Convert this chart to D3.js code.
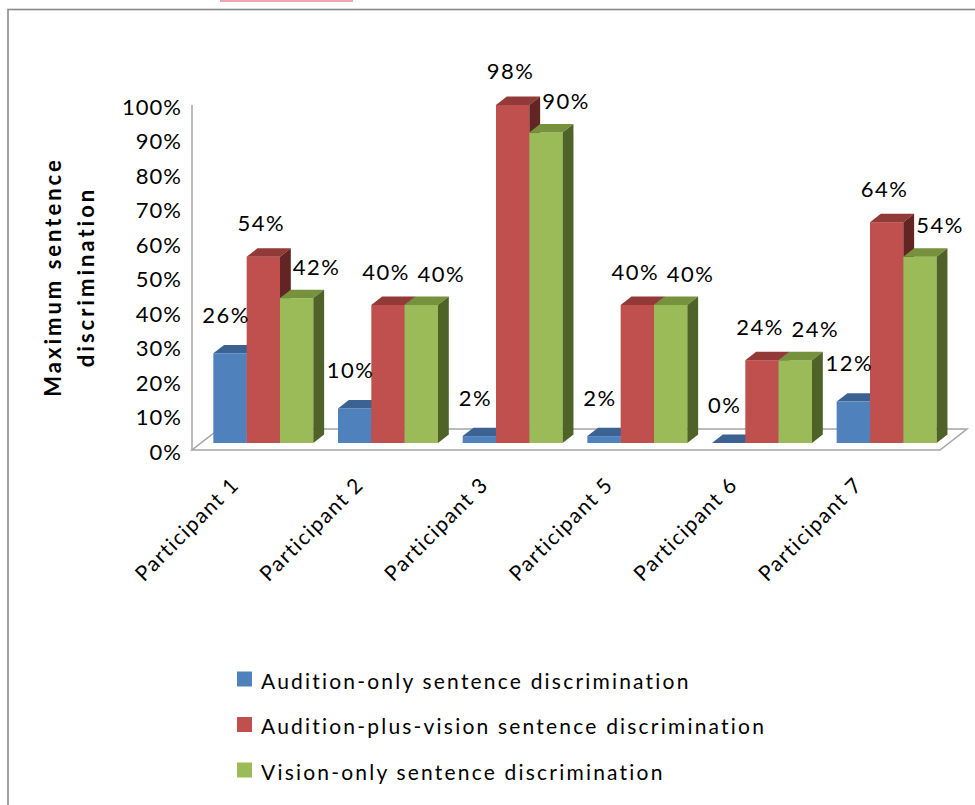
<!DOCTYPE html>
<html>
<head>
<meta charset="utf-8">
<script src="https://cdn.jsdelivr.net/npm/d3@7"></script>
<style>
  html, body { margin: 0; padding: 0; background: #fff; }
  svg { display: block; }
  text { font-family: Lato, "Open Sans", sans-serif; fill: #000; }
</style>
</head>
<body>
<svg id="chart" width="975" height="805"></svg>
<script>
// ---- data ----
const categories = ["Participant 1", "Participant 2", "Participant 3", "Participant 5", "Participant 6", "Participant 7"];
const seriesNames = [
  "Audition-only sentence discrimination",
  "Audition-plus-vision sentence discrimination",
  "Vision-only sentence discrimination"
];
const auditionOnly = [0.26, 0.10, 0.02, 0.02, 0.00, 0.12];
const auditionPlusVision = [0.54, 0.40, 0.98, 0.40, 0.24, 0.64];
const visionOnly = [0.42, 0.40, 0.90, 0.40, 0.24, 0.54];
const yTicks = [0, 0.1, 0.2, 0.3, 0.4, 0.5, 0.6, 0.7, 0.8, 0.9, 1.0];
const yTitle = ["Maximum sentence", "discrimination"];

const seriesValues = [auditionOnly, auditionPlusVision, visionOnly];
const palette = [
  { front: "#4f81bd", top: "#3b6293", side: "#2c4d75" },
  { front: "#c0504d", top: "#923a38", side: "#632523" },
  { front: "#9bbb59", top: "#76923c", side: "#4f6228" }
];

const svg = d3.select("#chart");

// page frame + top artifact
svg.append("rect").attr("x", 220).attr("y", 0).attr("width", 133).attr("height", 2).attr("fill", "#f3a3ad");
svg.append("rect").attr("x", 8).attr("y", 9.5).attr("width", 1100).attr("height", 1000)
  .attr("fill", "none").attr("stroke", "#8a8a8a").attr("stroke-width", 1.6);

// ---- geometry ----
const floorY = 450, floorLeft = 192, floorRight = 940;
const depth = { dx: 27, dy: -21 };          // floor depth
const frontShift = { dx: 9, dy: -7 };        // bar front face offset into the floor
const barDepth = { dx: 10.8, dy: -8.4 };     // bar depth

const x = d3.scaleBand().domain(categories).range([floorLeft, floorRight]);
const x1 = d3.scaleBand().domain(d3.range(seriesNames.length)).range([0, x.bandwidth()]).paddingOuter(0.37);
const y = d3.scaleLinear().domain([0, 1]).range([floorY, 105]);

// floor
const floorPts = [
  [floorLeft, floorY], [floorRight, floorY],
  [floorRight + depth.dx, floorY + depth.dy], [floorLeft + depth.dx, floorY + depth.dy]
];
svg.append("polygon").attr("points", floorPts.map(p => p.join(",")).join(" "))
  .attr("fill", "#fff").attr("stroke", "#a5a5a5").attr("stroke-width", 1.5);

// vertical axis line
svg.append("line").attr("x1", floorLeft).attr("x2", floorLeft).attr("y1", y(1)).attr("y2", y(0))
  .attr("stroke", "#a5a5a5").attr("stroke-width", 1.5);

// y tick labels
svg.append("g").selectAll("text").data(yTicks).join("text")
  .attr("x", 182).attr("y", d => y(d) + 1)
  .attr("text-anchor", "end").attr("dominant-baseline", "central")
  .attr("font-size", 22).attr("letter-spacing", 1)
  .text(d3.format(".0%"));

// y title
const yt = svg.append("text").attr("transform", "translate(61,277) rotate(-90)")
  .attr("text-anchor", "middle").attr("font-size", 22).attr("font-weight", "bold").attr("letter-spacing", 3);
yt.selectAll("tspan").data(yTitle).join("tspan")
  .attr("x", 0).attr("dy", (d, i) => i === 0 ? 0 : 33).text(d => d);

// bars
const bars = [];
categories.forEach((c, ci) => {
  seriesValues.forEach((vals, si) => {
    bars.push({ c, si, v: vals[ci] });
  });
});

const w = x1.bandwidth();
const gBars = svg.append("g");
bars.forEach(b => {
  const x0 = x(b.c) + x1(b.si) + frontShift.dx;
  const yb = y(0) + frontShift.dy;
  const ytp = y(b.v) + frontShift.dy;
  const col = palette[b.si];
  const poly = pts => pts.map(p => p.join(",")).join(" ");
  if (b.v > 0) {
    gBars.append("rect").attr("x", x0).attr("y", ytp).attr("width", w).attr("height", yb - ytp).attr("fill", col.front);
  }
  gBars.append("polygon").attr("fill", col.top).attr("points", poly([
    [x0, ytp], [x0 + w, ytp], [x0 + w + barDepth.dx, ytp + barDepth.dy], [x0 + barDepth.dx, ytp + barDepth.dy]
  ]));
  gBars.append("polygon").attr("fill", col.side).attr("points", poly([
    [x0 + w, ytp], [x0 + w + barDepth.dx, ytp + barDepth.dy], [x0 + w + barDepth.dx, yb + barDepth.dy], [x0 + w, yb]
  ]));
});

// data labels
const labelOffset = [{ dx: -4, dy: -39 }, { dx: -2, dy: -34 }, { dx: 20, dy: -32 }];
svg.append("g").selectAll("text").data(bars).join("text")
  .attr("x", d => x(d.c) + x1(d.si) + frontShift.dx + w / 2 + labelOffset[d.si].dx)
  .attr("y", d => y(d.v) + frontShift.dy + labelOffset[d.si].dy)
  .attr("text-anchor", "middle").attr("dominant-baseline", "central")
  .attr("font-size", 22).attr("letter-spacing", 1.5)
  .text(d => d3.format(".0%")(d.v));

// category labels
svg.append("g").selectAll("text").data(categories).join("text")
  .attr("transform", d => `translate(${x(d) + x.bandwidth() / 2 - 14},${floorY + 36}) rotate(-45)`)
  .attr("text-anchor", "end").attr("font-size", 21).attr("letter-spacing", 1.5)
  .text(d => d);

// legend
const lg = svg.append("g").selectAll("g").data(seriesNames).join("g")
  .attr("transform", (d, i) => `translate(237,${679 + i * 45.5})`);
lg.append("rect").attr("x", 0).attr("y", -7.5).attr("width", 15).attr("height", 15)
  .attr("fill", (d, i) => palette[i].front);
lg.append("text").attr("x", 24).attr("y", 1).attr("dominant-baseline", "central")
  .attr("font-size", 21).attr("letter-spacing", 2.2).text(d => d);
</script>
</body>
</html>
